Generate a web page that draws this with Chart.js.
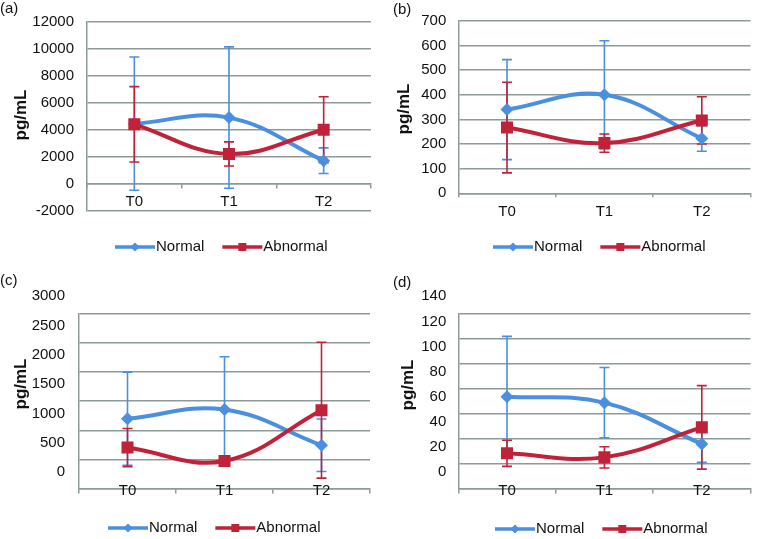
<!DOCTYPE html>
<html><head><meta charset="utf-8">
<script src="https://cdn.jsdelivr.net/npm/chart.js@4.4.0/dist/chart.umd.min.js"></script>
<style>
html,body{margin:0;padding:0;background:#fff;}
#wrap{position:relative;width:759px;height:539px;overflow:hidden;background:#fff;}
.p{position:absolute;}
canvas{display:block;}
</style></head><body>
<div id="wrap">
<div class="p" style="left:0;top:0"><canvas id="ca" width="380" height="270"></canvas></div>
<div class="p" style="left:380px;top:0"><canvas id="cb" width="379" height="270"></canvas></div>
<div class="p" style="left:0;top:270px"><canvas id="cc" width="380" height="269"></canvas></div>
<div class="p" style="left:380px;top:270px"><canvas id="cd" width="379" height="269"></canvas></div>
</div>
<script>
// ---- data ----
const categories = ['T0', 'T1', 'T2'];
const seriesNames = ['Normal', 'Abnormal'];
const yTitle = 'pg/mL';

// (a)
const aNormal = [4450, 4900, 1700];
const aNormalErr = [4950, 5250, 950];
const aAbnormal = [4400, 2200, 4000];
const aAbnormalErr = [2800, 900, 2450];
const aTicks = [-2000, 0, 2000, 4000, 6000, 8000, 10000, 12000];

// (b)
const bNormal = [340, 400, 223];
const bNormalErr = [203, 220, 52];
const bAbnormal = [267, 204, 296];
const bAbnormalErr = [184, 37, 96];
const bTicks = [0, 100, 200, 300, 400, 500, 600, 700];

// (c)
const cNormal = [1200, 1357, 747];
const cNormalErr = [796, 900, 447];
const cAbnormal = [707, 479, 1346];
const cAbnormalErr = [325, 50, 1160];
const cTicks = [0, 500, 1000, 1500, 2000, 2500, 3000];

// (d)
const dNormal = [73.6, 68.8, 35.9];
const dNormalErr = [48, 28, 14.7];
const dAbnormal = [28.4, 25.2, 49.1];
const dAbnormalErr = [10.4, 8.5, 33.3];
const dTicks = [0, 20, 40, 60, 80, 100, 120, 140];

// ---- styling ----
const BLUE = '#4a8fe0', RED = '#c0223a', GRID = '#8c9a98', TXT = '#111';
const FAM = '"Liberation Sans", Arial, Helvetica, sans-serif';
Chart.defaults.font.family = FAM;
Chart.defaults.color = TXT;

const errorBars = {
  id: 'errorBars',
  beforeDatasetsDraw(chart, args, opts) {
    const ctx = chart.ctx, xs = chart.scales.x, ys = chart.scales.y;
    ctx.save();
    chart.data.datasets.forEach((ds, di) => {
      const errs = opts.errors[di];
      ctx.strokeStyle = ds.borderColor;
      ctx.lineWidth = 1.6;
      ds.data.forEach((v, i) => {
        const x = xs.getPixelForValue(i);
        const yt = ys.getPixelForValue(v + errs[i]);
        const yb = ys.getPixelForValue(v - errs[i]);
        ctx.beginPath();
        ctx.moveTo(x, yt); ctx.lineTo(x, yb);
        ctx.moveTo(x - 5, yt); ctx.lineTo(x + 5, yt);
        ctx.moveTo(x - 5, yb); ctx.lineTo(x + 5, yb);
        ctx.stroke();
      });
    });
    ctx.restore();
  }
};

const deco = {
  id: 'deco',
  afterDraw(chart, args, o) {
    const ctx = chart.ctx;
    ctx.save();
    ctx.fillStyle = TXT;
    ctx.textBaseline = 'middle';
    ctx.textAlign = 'left';
    ctx.font = '15px ' + FAM;
    ctx.fillText(o.letter, o.letterX, o.letterY);
    // y title
    ctx.save();
    ctx.translate(o.titleX, o.titleY);
    ctx.rotate(-Math.PI / 2);
    ctx.textAlign = 'center';
    ctx.font = 'bold 17px ' + FAM;
    ctx.fillText(yTitle, 0, 0);
    ctx.restore();
    // legend
    let x = o.legendX;
    const y = o.legendY;
    ctx.font = '15px ' + FAM;
    chart.data.datasets.forEach((ds, di) => {
      ctx.strokeStyle = ds.borderColor;
      ctx.fillStyle = ds.borderColor;
      ctx.lineWidth = 3.5;
      ctx.beginPath(); ctx.moveTo(x, y); ctx.lineTo(x + 40, y); ctx.stroke();
      const cx = x + 20;
      ctx.beginPath();
      if (di === 0) {
        const r = 4.5;
        ctx.moveTo(cx, y - r); ctx.lineTo(cx + r, y); ctx.lineTo(cx, y + r); ctx.lineTo(cx - r, y); ctx.closePath();
      } else {
        const h = 4;
        ctx.rect(cx - h, y - h, 2 * h, 2 * h);
      }
      ctx.fill();
      ctx.fillStyle = TXT;
      ctx.fillText(ds.label, x + 41, y);
      x += 41 + ctx.measureText(ds.label).width + 18;
    });
    ctx.restore();
  }
};

function makePanel(id, o) {
  const yAxis = {
    type: 'linear',
    min: o.ticks[0], max: o.ticks[o.ticks.length - 1],
    afterBuildTicks: s => { s.ticks = o.ticks.map(v => ({ value: v })); },
    afterFit: s => { s.width = o.yW; },
    grid: { color: GRID, lineWidth: 1.5, drawTicks: false },
    border: { color: GRID, width: 1.5 },
    ticks: { padding: o.yPad, labelOffset: o.labelOffset || 0, font: { size: 15 }, color: TXT,
             callback: v => String(v) }
  };
  const xAxis = {
    type: 'category',
    labels: categories,
    offset: true,
    position: o.xPos,
    z: o.xZ || 0,
    grid: { offset: true, drawOnChartArea: false, drawTicks: true, tickLength: 4, color: GRID, lineWidth: 1.5 },
    border: { color: GRID, width: 1.5 },
    ticks: { padding: o.xPad, font: { size: 15 }, color: TXT, maxRotation: 0, autoSkip: false }
  };
  if (o.xH !== undefined) xAxis.afterFit = s => { s.height = o.xH; };
  return new Chart(document.getElementById(id), {
    type: 'line',
    data: {
      labels: categories,
      datasets: [
        { label: seriesNames[0], data: o.normal, borderColor: BLUE, backgroundColor: BLUE,
          pointStyle: 'rectRot', pointRadius: 6.5, pointHoverRadius: 6.5, pointBorderWidth: 0,
          borderWidth: 4, tension: 0.4, order: 1, fill: false },
        { label: seriesNames[1], data: o.abnormal, borderColor: RED, backgroundColor: RED,
          pointStyle: 'rect', pointRadius: 8.5, pointHoverRadius: 8.5, pointBorderWidth: 0,
          borderWidth: 4, tension: 0.4, order: 0, fill: false }
      ]
    },
    options: {
      responsive: false,
      animation: false,
      devicePixelRatio: 1,
      layout: { padding: { top: o.padTop, right: o.padRight, bottom: o.padBottom, left: 0 } },
      scales: { x: xAxis, y: yAxis },
      plugins: {
        legend: { display: false },
        tooltip: { enabled: false },
        errorBars: { errors: [o.normalErr, o.abnormalErr] },
        deco: o.deco
      }
    },
    plugins: [errorBars, deco]
  });
}

makePanel('ca', {
  normal: aNormal, normalErr: aNormalErr, abnormal: aAbnormal, abnormalErr: aAbnormalErr, ticks: aTicks,
  yW: 87, yPad: 13, padTop: 18.3, padRight: 9, padBottom: 59.5, xPos: { y: 0 }, xPad: 5,
  deco: { letter: '(a)', letterX: 0, letterY: 9, titleX: 21.7, titleY: 115, legendX: 115, legendY: 247 }
});
makePanel('cb', {
  normal: bNormal, normalErr: bNormalErr, abnormal: bAbnormal, abnormalErr: bAbnormalErr, ticks: bTicks,
  yW: 78.3, yPad: 12, padTop: 18.3, padRight: 1, padBottom: 0, xPos: 'bottom', xH: 76.7, xPad: 6,
  deco: { letter: '(b)', letterX: 13, letterY: 10, titleX: 24, titleY: 109, legendX: 113, legendY: 247 }
});
makePanel('cc', {
  normal: cNormal, normalErr: cNormalErr, abnormal: cAbnormal, abnormalErr: cAbnormalErr, ticks: cTicks,
  yW: 79, yPad: 14, padTop: 43.3, padRight: 10, padBottom: 50, xPos: { y: 0 }, xPad: -11, xZ: 1, labelOffset: -17,
  deco: { letter: '(c)', letterX: 0, letterY: 11, titleX: 21.7, titleY: 114, legendX: 108, legendY: 258 }
});
makePanel('cd', {
  normal: dNormal, normalErr: dNormalErr, abnormal: dAbnormal, abnormalErr: dAbnormalErr, ticks: dTicks,
  yW: 78.3, yPad: 12, padTop: 43.3, padRight: 1, padBottom: 50, xPos: { y: 0 }, xPad: -11, xZ: 1, labelOffset: -17,
  deco: { letter: '(d)', letterX: 13, letterY: 13, titleX: 28, titleY: 115, legendX: 115, legendY: 259 }
});
</script>
</body></html>
